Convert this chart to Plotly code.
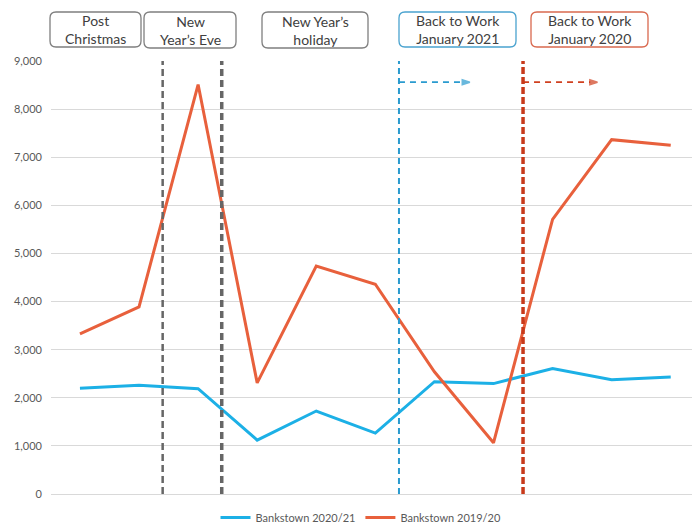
import plotly.graph_objects as go

# ---------------- data ----------------
periods = list(range(11))
bankstown_2020_21 = [2200, 2260, 2190, 1120, 1725, 1265, 2335, 2295, 2610, 2375, 2430]
bankstown_2019_20 = [3330, 3890, 8510, 2310, 4740, 4360, 2540, 1065, 5710, 7365, 7250]
y_ticks = [0, 1000, 2000, 3000, 4000, 5000, 6000, 7000, 8000, 9000]

# event markers (positions on the period axis)
nye_start, nye_end = 1.40, 2.40
work_2021, work_2021_end = 5.40, 6.60
work_2020, work_2020_end = 7.50, 8.76
arrow_level = 8560

BLUE = "#1cb0e6"
ORANGE = "#e8603c"
FONT = "Lato"

# layout geometry (pixels)
W, H = 692, 525
L, R, T, B = 51, 0, 61, 31
PW, PH = W - L - R, H - T - B


def px(xp):
    return (xp - L) / PW


def py(yp):
    return (H - B - yp) / PH


fig = go.Figure()
fig.add_trace(go.Scatter(x=periods, y=bankstown_2020_21, mode="lines", name="Bankstown 2020/21",
                         line=dict(color=BLUE, width=3)))
fig.add_trace(go.Scatter(x=periods, y=bankstown_2019_20, mode="lines", name="Bankstown 2019/20",
                         line=dict(color=ORANGE, width=3)))

# dashed arrows
for x0, x1, col in [(work_2021, work_2021_end, "#2a9bcf"), (work_2020, work_2020_end, "#d0401f")]:
    fig.add_trace(go.Scatter(x=[x0, x1], y=[arrow_level, arrow_level], mode="lines+markers",
                             showlegend=False, hoverinfo="skip",
                             line=dict(color=col, width=1.8, dash="6px,5px"),
                             marker=dict(symbol=["line-ns", "arrow"], size=[7, 8], angleref="previous",
                                         color=col, line=dict(color=col, width=1.5))))

shapes = []
# vertical dashed event lines
for xv, col, w, d in [(nye_start, "#666666", 2.5, "7px,4px"), (nye_end, "#666666", 3.5, "7px,4px"),
                      (work_2021, "#2a9bcf", 2, "6px,4px"), (work_2020, "#c8391a", 3.5, "7px,3px")]:
    shapes.append(dict(type="line", xref="x", yref="paper", x0=xv, x1=xv, y0=0, y1=1,
                       line=dict(color=col, width=w, dash=d), layer="above"))


def rounded_box(x0p, x1p, y0p, y1p, color, r=6):
    xa, xb = px(x0p), px(x1p)
    ya, yb = py(y1p), py(y0p)  # bottom, top in paper
    rx, ry = r / PW, r / PH
    path = (f"M {xa+rx},{ya} L {xb-rx},{ya} Q {xb},{ya} {xb},{ya+ry} "
            f"L {xb},{yb-ry} Q {xb},{yb} {xb-rx},{yb} L {xa+rx},{yb} "
            f"Q {xa},{yb} {xa},{yb-ry} L {xa},{ya+ry} Q {xa},{ya} {xa+rx},{ya} Z")
    return dict(type="path", xref="paper", yref="paper", path=path,
                line=dict(color=color, width=1.3), fillcolor="white")


boxes = [
    ("Post<br>Christmas", 50, 141, 12, 47, "#7f7f7f"),
    ("New<br>Year’s Eve", 144, 236, 12, 48, "#7f7f7f"),
    ("New Year’s<br>holiday", 262, 368, 12, 48, "#7f7f7f"),
    ("Back to Work<br>January 2021", 399, 516, 12, 47, "#4aa3cf"),
    ("Back to Work<br>January 2020", 531, 648, 12, 47, "#d9694f"),
]
annotations = []
for text, x0p, x1p, y0p, y1p, col in boxes:
    shapes.append(rounded_box(x0p, x1p, y0p, y1p, col))
    annotations.append(dict(xref="paper", yref="paper", x=px((x0p + x1p) / 2), y=py((y0p + y1p) / 2),
                            text=text, showarrow=False, xanchor="center", yanchor="middle",
                            font=dict(family=FONT, size=14, color="#404040")))

fig.update_layout(
    width=W, height=H,
    margin=dict(l=L, r=R, t=T, b=B, pad=0, autoexpand=False),
    paper_bgcolor="white", plot_bgcolor="white",
    font=dict(family=FONT, size=11, color="#595959"),
    xaxis=dict(range=[-0.49, 10.36], showticklabels=False, showgrid=False, zeroline=False,
               showline=False, ticks="", automargin=False),
    yaxis=dict(range=[0, 9000], tickvals=y_ticks, tickformat=",", showgrid=True,
               gridcolor="#d9d9d9", gridwidth=1, zeroline=True, zerolinecolor="#d9d9d9",
               zerolinewidth=1, showline=False, ticks="", ticklabelstandoff=8, automargin=False,
               tickfont=dict(family=FONT, size=11, color="#595959")),
    legend=dict(orientation="h", x=px(361), xanchor="center", y=py(H + 7), yanchor="bottom",
                font=dict(family=FONT, size=11, color="#595959"), itemwidth=30,
                bgcolor="rgba(0,0,0,0)"),
    shapes=shapes, annotations=annotations,
    hovermode=False,
)

fig.write_html("out.html", config={"displayModeBar": False},
               post_script="document.body.style.margin='0';")
